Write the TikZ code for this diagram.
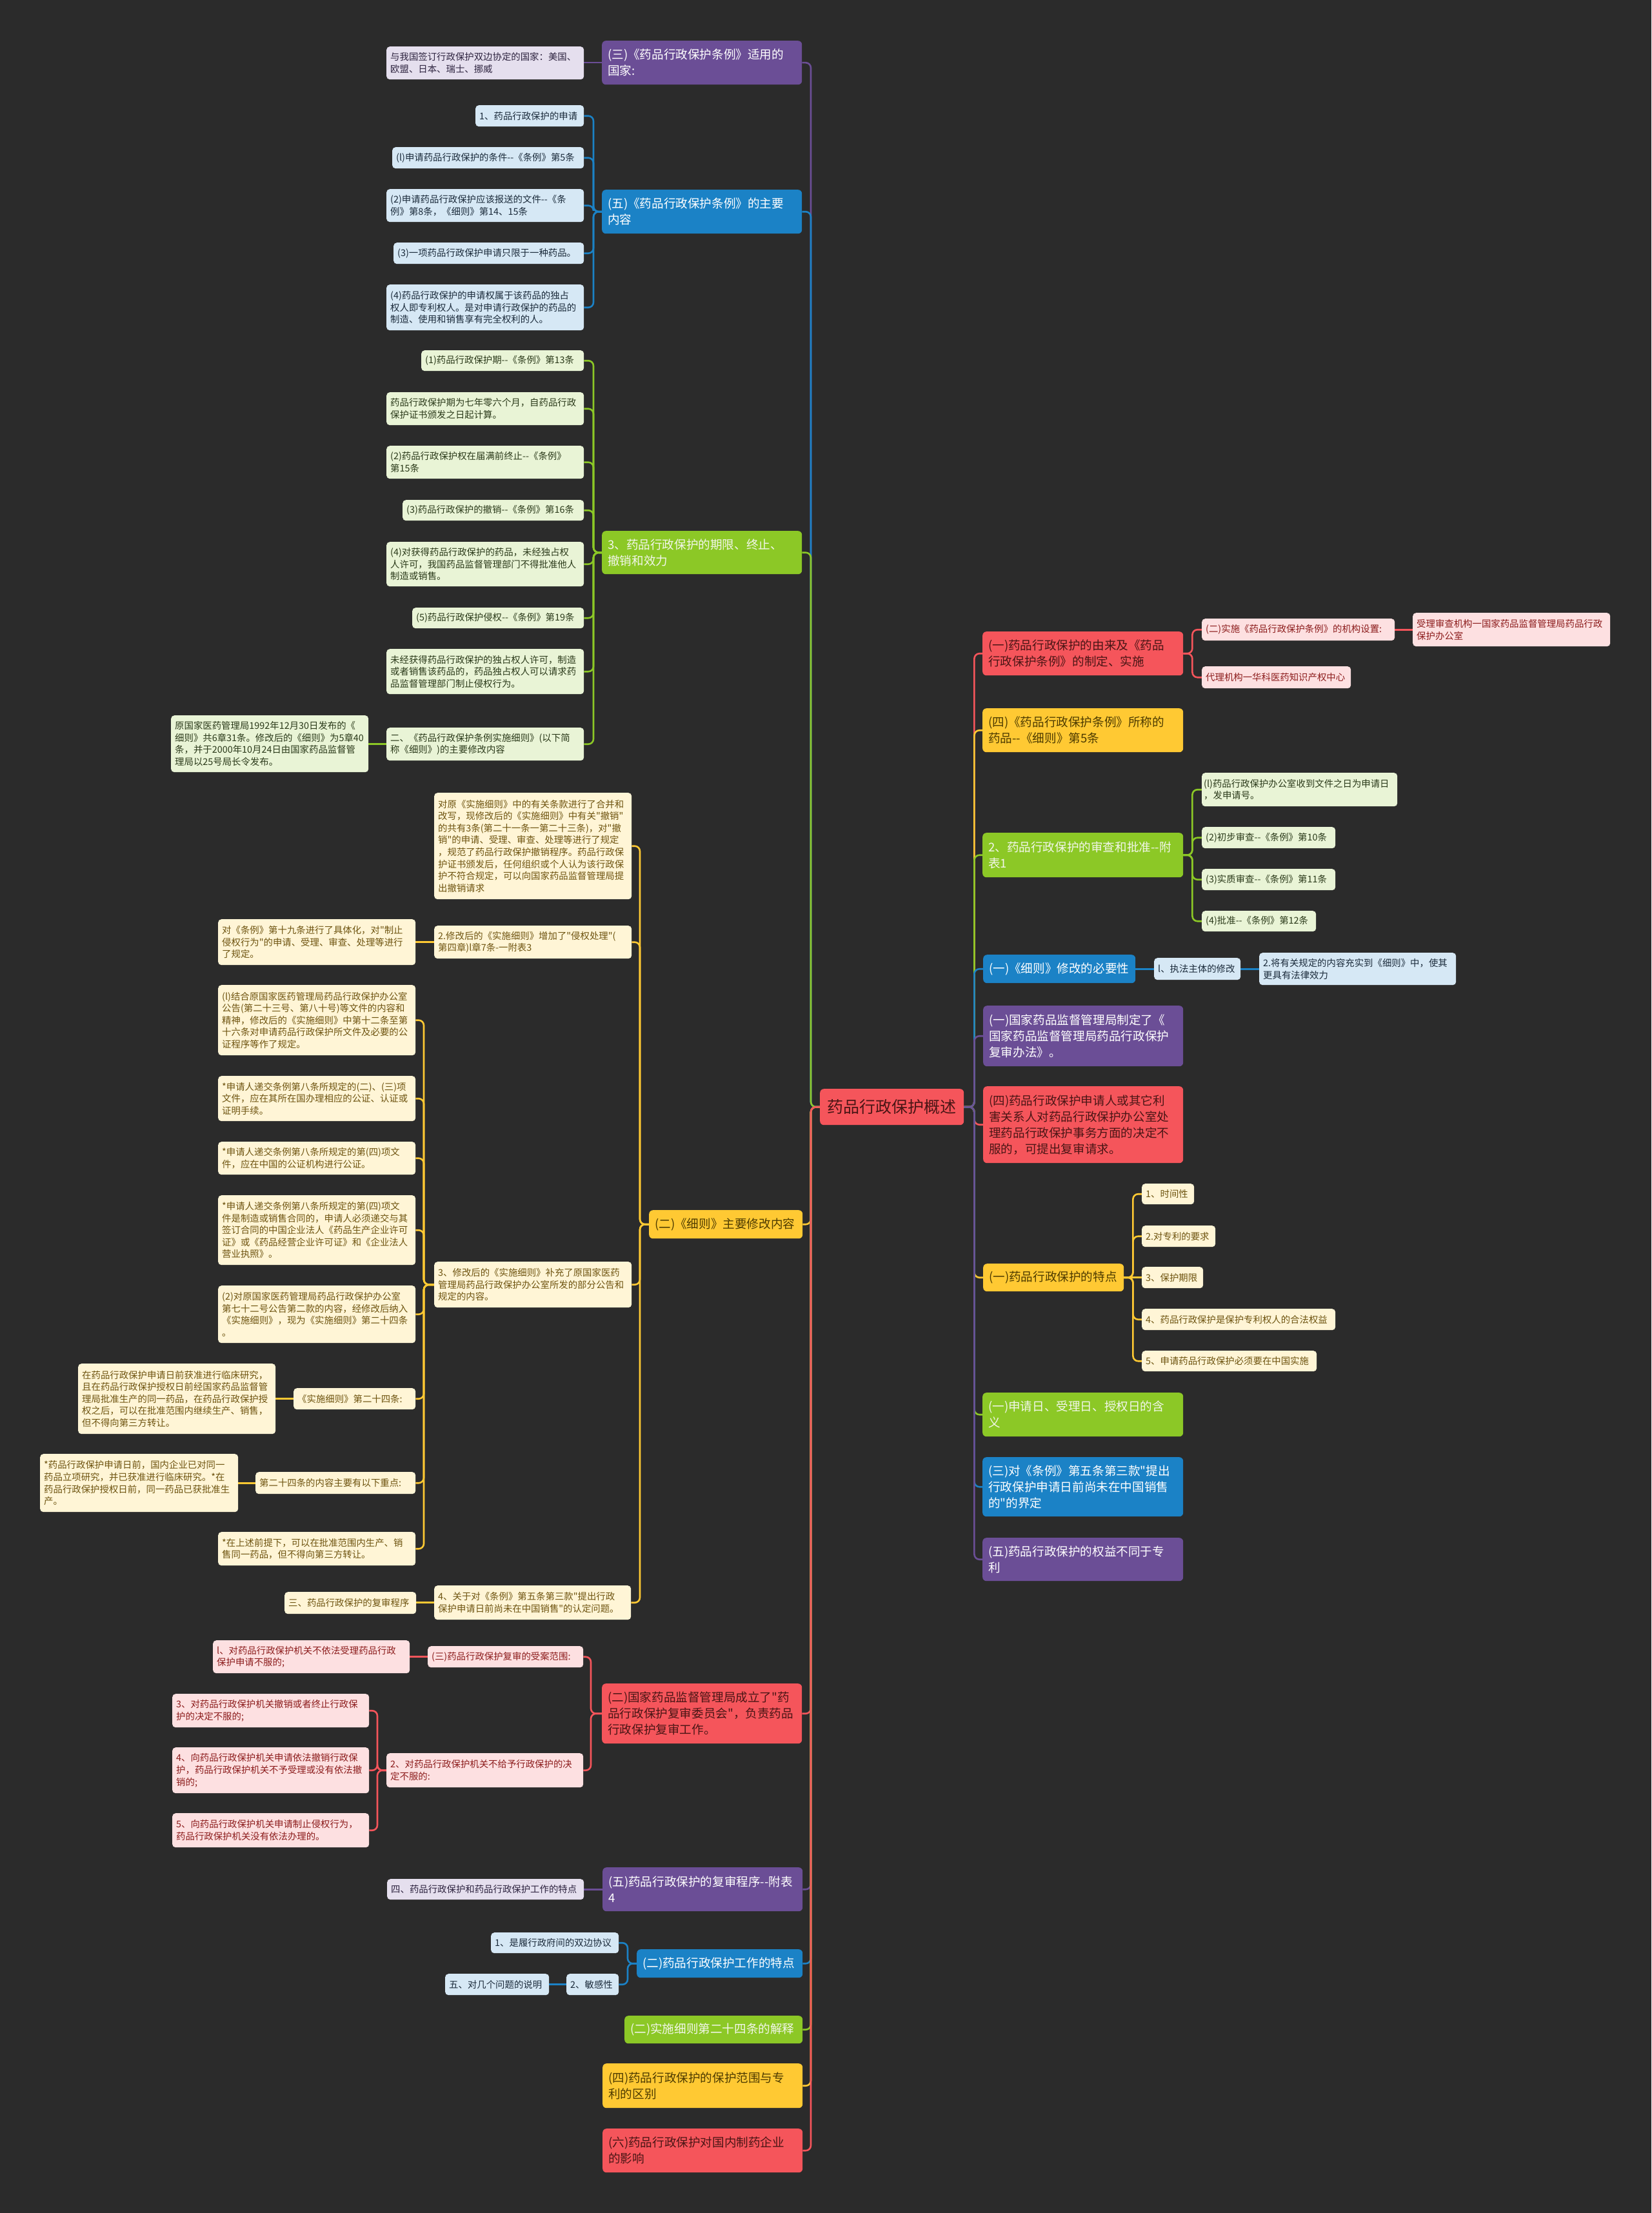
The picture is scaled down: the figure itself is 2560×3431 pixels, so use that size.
\documentclass[tikz,border=0pt]{standalone}
\usepackage{fontspec}
\newfontfamily\cjk{Noto Sans CJK SC}
\definecolor{bgc}{HTML}{2B2B2B}
\definecolor{cred}{HTML}{F5555B}
\definecolor{cyel}{HTML}{FFC933}
\definecolor{cgrn}{HTML}{8CC826}
\definecolor{cblu}{HTML}{1B82C6}
\definecolor{cpur}{HTML}{6B4E96}
\definecolor{tred}{HTML}{4A1515}
\definecolor{tyel}{HTML}{4D3B00}
\definecolor{tgrn}{HTML}{F2F6EA}
\definecolor{lred}{HTML}{FDE0E1}
\definecolor{lyel}{HTML}{FFF5D6}
\definecolor{lgrn}{HTML}{E9F4D6}
\definecolor{lblu}{HTML}{D6E8F5}
\definecolor{lpur}{HTML}{E5DFEE}
\definecolor{ltred}{HTML}{8C1C1C}
\definecolor{ltyel}{HTML}{6E5410}
\definecolor{ltgrn}{HTML}{2B3A1A}
\definecolor{ltblu}{HTML}{1B2B3B}
\definecolor{ltpur}{HTML}{2E2440}
\pgfdeclarelayer{bgl}
\pgfsetlayers{bgl,main}
\tikzset{
  lf/.style={rounded corners=5pt, align=left, font=\cjk\fontsize{14.4}{18.6}\selectfont},
  br/.style={rounded corners=6pt, align=left, font=\cjk\fontsize{18.6}{25}\selectfont},
  rB/.style={br, fill=cred, text=tred},
  yB/.style={br, fill=cyel, text=tyel},
  gB/.style={br, fill=cgrn, text=tgrn},
  bB/.style={br, fill=cblu, text=white},
  pB/.style={br, fill=cpur, text=white},
  rL/.style={lf, fill=lred, text=ltred},
  yL/.style={lf, fill=lyel, text=ltyel},
  gL/.style={lf, fill=lgrn, text=ltgrn},
  bL/.style={lf, fill=lblu, text=ltblu},
  pL/.style={lf, fill=lpur, text=ltpur},
  ln/.style={line width=2.6pt, rounded corners=8pt},
}
\newcommand\nd[8]{%
  \pgfmathsetlengthmacro\ndtw{(#6-2*#2)*1pt}%
  \node[#1, anchor=north west, inner xsep=#2pt, inner ysep=0pt, minimum width=#6pt, minimum height=#7pt, text width=\ndtw] (#3) at (#4,#5) {#8};}
\begin{document}
\begin{tikzpicture}[x=1pt,y=-1pt]
\begin{pgfonlayer}{bgl}
\fill[bgc] (0,0) rectangle (2560,3431);
\end{pgfonlayer}
\useasboundingbox (0,0) rectangle (2560,3431);

% center
\node[rB, font=\cjk\fontsize{25}{30}\selectfont, anchor=north west, minimum width=223pt, minimum height=56pt, inner sep=0pt, align=center] (C) at (1271,1688) {药品行政保护概述};

% ---------- left ----------
\nd{pB}{9}{LA}{933}{63}{310}{68}{(三)《药品行政保护条例》适用的\\国家:}
\nd{pL}{6}{LA1}{599}{72}{306}{51}{与我国签订行政保护双边协定的国家：美国、\\欧盟、日本、瑞士、挪威}

\nd{bB}{9}{LB}{933}{294}{310}{68}{(五)《药品行政保护条例》的主要\\内容}
\nd{bL}{6}{LB1}{737}{163}{168}{33}{1、药品行政保护的申请}
\nd{bL}{6}{LB2}{608}{228}{297}{33}{(l)申请药品行政保护的条件-{}-《条例》第5条}
\nd{bL}{6}{LB3}{599}{293}{306}{51}{(2)申请药品行政保护应该报送的文件-{}-《条\\例》第8条，《细则》第14、15条}
\nd{bL}{6}{LB4}{610}{376}{295}{33}{(3)一项药品行政保护申请只限于一种药品。}
\nd{bL}{6}{LB5}{599}{441}{306}{71}{(4)药品行政保护的申请权属于该药品的独占\\权人即专利权人。是对申请行政保护的药品的\\制造、使用和销售享有完全权利的人。}

\nd{gB}{9}{LC}{933}{823}{310}{67}{3、药品行政保护的期限、终止、\\撤销和效力}
\nd{gL}{6}{LC1}{653}{543}{252}{32}{(1)药品行政保护期-{}-《条例》第13条}
\nd{gL}{6}{LC2}{599}{608}{306}{51}{药品行政保护期为七年零六个月，自药品行政\\保护证书颁发之日起计算。}
\nd{gL}{6}{LC3}{599}{691}{306}{51}{(2)药品行政保护权在届满前终止-{}-《条例》\\第15条}
\nd{gL}{6}{LC4}{624}{775}{281}{32}{(3)药品行政保护的撤销-{}-《条例》第16条}
\nd{gL}{6}{LC5}{599}{840}{306}{69}{(4)对获得药品行政保护的药品，未经独占权\\人许可，我国药品监督管理部门不得批准他人\\制造或销售。}
\nd{gL}{6}{LC6}{639}{942}{266}{32}{(5)药品行政保护侵权-{}-《条例》第19条}
\nd{gL}{6}{LC7}{599}{1006}{306}{70}{未经获得药品行政保护的独占权人许可，制造\\或者销售该药品的，药品独占权人可以请求药\\品监督管理部门制止侵权行为。}
\nd{gL}{6}{LC8}{599}{1128}{306}{51}{二、《药品行政保护条例实施细则》(以下简\\称《细则》)的主要修改内容}
\nd{gL}{6}{LC81}{265}{1109}{306}{88}{原国家医药管理局1992年12月30日发布的《\\细则》共6章31条。修改后的《细则》为5章40\\条，并于2000年10月24日由国家药品监督管\\理局以25号局长令发布。}

\nd{yB}{9}{LD}{1006}{1876}{238}{44}{(二)《细则》主要修改内容}
\nd{yL}{6}{LD1}{673}{1229}{306}{165}{对原《实施细则》中的有关条款进行了合并和\\改写，现修改后的《实施细则》中有关"撤销"\\的共有3条(第二十一条一第二十三条)，对"撤\\销"的申请、受理、审查、处理等进行了规定\\，规范了药品行政保护撤销程序。药品行政保\\护证书颁发后，任何组织或个人认为该行政保\\护不符合规定，可以向国家药品监督管理局提\\出撤销请求}
\nd{yL}{6}{LD2}{673}{1435}{306}{51}{2.修改后的《实施细则》增加了"侵权处理"(\\第四章)l章7条-一附表3}
\nd{yL}{6}{LD21}{338}{1425}{306}{71}{对《条例》第十九条进行了具体化，对"制止\\侵权行为"的申请、受理、审查、处理等进行\\了规定。}
\nd{yL}{6}{LD3}{673}{1956}{306}{71}{3、修改后的《实施细则》补充了原国家医药\\管理局药品行政保护办公室所发的部分公告和\\规定的内容。}
\nd{yL}{6}{LD31}{338}{1527}{306}{109}{(l)结合原国家医药管理局药品行政保护办公室\\公告(第二十三号、第八十号)等文件的内容和\\精神，修改后的《实施细则》中第十二条至第\\十六条对申请药品行政保护所文件及必要的公\\证程序等作了规定。}
\nd{yL}{6}{LD32}{338}{1668}{306}{70}{*申请人递交条例第八条所规定的(二)、(三)项\\文件，应在其所在国办理相应的公证、认证或\\证明手续。}
\nd{yL}{6}{LD33}{338}{1770}{306}{51}{*申请人递交条例第八条所规定的第(四)项文\\件，应在中国的公证机构进行公证。}
\nd{yL}{6}{LD34}{338}{1853}{306}{108}{*申请人递交条例第八条所规定的第(四)项文\\件是制造或销售合同的，申请人必须递交与其\\签订合同的中国企业法人《药品生产企业许可\\证》或《药品经营企业许可证》和《企业法人\\营业执照》。}
\nd{yL}{6}{LD35}{338}{1993}{306}{89}{(2)对原国家医药管理局药品行政保护办公室\\第七十二号公告第二款的内容，经修改后纳入\\《实施细则》，现为《实施细则》第二十四条\\。}
\nd{yL}{6}{LD36}{455}{2152}{189}{33}{《实施细则》第二十四条:}
\nd{yL}{6}{LD361}{121}{2114}{306}{109}{在药品行政保护申请日前获准进行临床研究，\\且在药品行政保护授权日前经国家药品监督管\\理局批准生产的同一药品，在药品行政保护授\\权之后，可以在批准范围内继续生产、销售，\\但不得向第三方转让。}
\nd{yL}{6}{LD37}{396}{2282}{248}{34}{第二十四条的内容主要有以下重点:}
\nd{yL}{6}{LD371}{62}{2254}{307}{90}{*药品行政保护申请日前，国内企业已对同一\\药品立项研究，并已获准进行临床研究。*在\\药品行政保护授权日前，同一药品已获批准生\\产。}
\nd{yL}{6}{LD38}{338}{2375}{306}{52}{*在上述前提下，可以在批准范围内生产、销\\售同一药品，但不得向第三方转让。}
\nd{yL}{6}{LD4}{673}{2458}{305}{53}{4、关于对《条例》第五条第三款"提出行政\\保护申请日前尚未在中国销售"的认定问题。}
\nd{yL}{6}{LD41}{441}{2468}{204}{34}{三、药品行政保护的复审程序}

\nd{rB}{9}{LE}{933}{2610}{310}{93}{(二)国家药品监督管理局成立了"药\\品行政保护复审委员会"，负责药品\\行政保护复审工作。}
\nd{rL}{6}{LE1}{663}{2552}{241}{33}{(三)药品行政保护复审的受案范围:}
\nd{rL}{6}{LE11}{330}{2543}{305}{51}{l、对药品行政保护机关不依法受理药品行政\\保护申请不服的;}
\nd{rL}{6}{LE2}{599}{2718}{305}{53}{2、对药品行政保护机关不给予行政保护的决\\定不服的:}
\nd{rL}{6}{LE21}{267}{2626}{305}{52}{3、对药品行政保护机关撤销或者终止行政保\\护的决定不服的;}
\nd{rL}{6}{LE22}{267}{2709}{305}{71}{4、向药品行政保护机关申请依法撤销行政保\\护，药品行政保护机关不予受理或没有依法撤\\销的;}
\nd{rL}{6}{LE23}{267}{2811}{305}{53}{5、向药品行政保护机关申请制止侵权行为，\\药品行政保护机关没有依法办理的。}

\nd{pB}{9}{LF}{934}{2895}{310}{68}{(五)药品行政保护的复审程序-{}-附表\\4}
\nd{pL}{6}{LF1}{600}{2913}{305}{32}{四、药品行政保护和药品行政保护工作的特点}
\nd{bB}{9}{LG}{987}{3022}{257}{44}{(二)药品行政保护工作的特点}
\nd{bL}{6}{LG1}{761}{2996}{198}{32}{1、是履行政府间的双边协议}
\nd{bL}{6}{LG2}{878}{3060}{81}{33}{2、敏感性}
\nd{bL}{6}{LG21}{690}{3060}{161}{33}{五、对几个问题的说明}
\nd{gB}{9}{LH}{968}{3125}{276}{43}{(二)实施细则第二十四条的解释}
\nd{yB}{9}{LI}{934}{3199}{310}{69}{(四)药品行政保护的保护范围与专\\利的区别}
\nd{rB}{9}{LJ}{934}{3300}{310}{68}{(六)药品行政保护对国内制药企业\\的影响}

% ---------- right ----------
\nd{rB}{9}{RA}{1523}{979}{311}{68}{(一)药品行政保护的由来及《药品\\行政保护条例》的制定、实施}
\nd{rL}{6}{RA1}{1863}{959}{299}{34}{(二)实施《药品行政保护条例》的机构设置:}
\nd{rL}{6}{RA11}{2190}{950}{306}{52}{受理审查机构一国家药品监督管理局药品行政\\保护办公室}
\nd{rL}{6}{RA2}{1863}{1033}{231}{34}{代理机构一华科医药知识产权中心}
\nd{yB}{9}{RB}{1523}{1098}{311}{68}{(四)《药品行政保护条例》所称的\\药品-{}-《细则》第5条}
\nd{gB}{9}{RC}{1523}{1291}{311}{69}{2、药品行政保护的审查和批准-{}-附\\表1}
\nd{gL}{3}{RC1}{1863}{1198}{303}{52}{(l)药品行政保护办公室收到文件之日为申请日\\，发申请号。}
\nd{gL}{6}{RC2}{1863}{1282}{207}{33}{(2)初步审查-{}-《条例》第10条}
\nd{gL}{6}{RC3}{1863}{1347}{207}{33}{(3)实质审查-{}-《条例》第11条}
\nd{gL}{6}{RC4}{1863}{1412}{177}{32}{(4)批准-{}-《条例》第12条}
\nd{bB}{9}{RD}{1524}{1480}{236}{44}{(一)《细则》修改的必要性}
\nd{bL}{6}{RD1}{1789}{1485}{134}{34}{l、执法主体的修改}
\nd{bL}{6}{RD11}{1952}{1477}{305}{50}{2.将有关规定的内容充实到《细则》中，使其\\更具有法律效力}
\nd{pB}{9}{RE}{1524}{1559}{310}{94}{(一)国家药品监督管理局制定了《\\国家药品监督管理局药品行政保护\\复审办法》。}
\nd{rB}{9}{RF}{1524}{1684}{310}{119}{(四)药品行政保护申请人或其它利\\害关系人对药品行政保护办公室处\\理药品行政保护事务方面的决定不\\服的，可提出复审请求。}
\nd{yB}{9}{RG}{1524}{1959}{218}{43}{(一)药品行政保护的特点}
\nd{yL}{6}{RG1}{1770}{1835}{81}{32}{1、时间性}
\nd{yL}{6}{RG2}{1770}{1900}{114}{33}{2.对专利的要求}
\nd{yL}{6}{RG3}{1770}{1964}{95}{33}{3、保护期限}
\nd{yL}{6}{RG4}{1770}{2029}{300}{33}{4、药品行政保护是保护专利权人的合法权益}
\nd{yL}{6}{RG5}{1770}{2094}{271}{32}{5、申请药品行政保护必须要在中国实施}
\nd{gB}{9}{RH}{1523}{2159}{311}{68}{(一)申请日、受理日、授权日的含\\义}
\nd{bB}{9}{RI}{1523}{2259}{311}{92}{(三)对《条例》第五条第三款"提出\\行政保护申请日前尚未在中国销售\\的"的界定}
\nd{pB}{9}{RJ}{1523}{2384}{311}{67}{(五)药品行政保护的权益不同于专\\利}

% ---------- connectors ----------
\begin{pgfonlayer}{bgl}
% left trunk
\draw[ln,draw=cpur] (C.west) -- ++(-14,0) |- (LA.east);
\draw[ln,draw=cblu] (C.west) -- ++(-14,0) |- (LB.east);
\draw[ln,draw=cgrn] (C.west) -- ++(-14,0) |- (LC.east);
\draw[ln,draw=cyel] (C.west) -- ++(-14,0) |- (LD.east);
\draw[ln,draw=cred] (C.west) -- ++(-14,0) |- (LE.east);
\draw[ln,draw=cpur] (C.west) -- ++(-14,0) |- (LF.east);
\draw[ln,draw=cblu] (C.west) -- ++(-14,0) |- (LG.east);
\draw[ln,draw=cgrn] (C.west) -- ++(-14,0) |- (LH.east);
\draw[ln,draw=cyel] (C.west) -- ++(-14,0) |- (LI.east);
\draw[ln,draw=cred] (C.west) -- ++(-14,0) |- (LJ.east);
% right trunk
\draw[ln,draw=cred] (C.east) -- ++(16,0) |- (RA.west);
\draw[ln,draw=cyel] (C.east) -- ++(16,0) |- (RB.west);
\draw[ln,draw=cgrn] (C.east) -- ++(16,0) |- (RC.west);
\draw[ln,draw=cblu] (C.east) -- ++(16,0) |- (RD.west);
\draw[ln,draw=cpur] (C.east) -- ++(16,0) |- (RE.west);
\draw[ln,draw=cred] (C.east) -- ++(16,0) |- (RF.west);
\draw[ln,draw=cyel] (C.east) -- ++(16,0) |- (RG.west);
\draw[ln,draw=cgrn] (C.east) -- ++(16,0) |- (RH.west);
\draw[ln,draw=cblu] (C.east) -- ++(16,0) |- (RI.west);
\draw[ln,draw=cpur] (C.east) -- ++(16,0) |- (RJ.west);
% left sub-connectors
\draw[ln,draw=cpur] (LA.west) -- (LA1.east |- LA.west);
\foreach \k in {LB1,LB2,LB3,LB4,LB5} \draw[ln,draw=cblu] (LB.west) -- ++(-13,0) |- (\k.east);
\foreach \k in {LC1,LC2,LC3,LC4,LC5,LC6,LC7,LC8} \draw[ln,draw=cgrn] (LC.west) -- ++(-13,0) |- (\k.east);
\draw[ln,draw=cgrn] (LC8.west) -- (LC81.east |- LC8.west);
\foreach \k in {LD1,LD2,LD3,LD4} \draw[ln,draw=cyel] (LD.west) -- ++(-14,0) |- (\k.east);
\draw[ln,draw=cyel] (LD2.west) -- (LD21.east |- LD2.west);
\foreach \k in {LD31,LD32,LD33,LD34,LD35,LD36,LD37,LD38} \draw[ln,draw=cyel] (LD3.west) -- ++(-16,0) |- (\k.east);
\draw[ln,draw=cyel] (LD36.west) -- (LD361.east |- LD36.west);
\draw[ln,draw=cyel] (LD37.west) -- (LD371.east |- LD37.west);
\draw[ln,draw=cyel] (LD4.west) -- (LD41.east |- LD4.west);
\foreach \k in {LE1,LE2} \draw[ln,draw=cred] (LE.west) -- ++(-17,0) |- (\k.east);
\draw[ln,draw=cred] (LE1.west) -- (LE11.east |- LE1.west);
\foreach \k in {LE21,LE22,LE23} \draw[ln,draw=cred] (LE2.west) -- ++(-14,0) |- (\k.east);
\draw[ln,draw=cpur] (LF.west) -- (LF1.east |- LF.west);
\foreach \k in {LG1,LG2} \draw[ln,draw=cblu] (LG.west) -- ++(-14,0) |- (\k.east);
\draw[ln,draw=cblu] (LG2.west) -- (LG21.east |- LG2.west);
% right sub-connectors
\foreach \k in {RA1,RA2} \draw[ln,draw=cred] (RA.east) -- ++(14,0) |- (\k.west);
\draw[ln,draw=cred] (RA1.east) -- (RA11.west |- RA1.east);
\foreach \k in {RC1,RC2,RC3,RC4} \draw[ln,draw=cgrn] (RC.east) -- ++(14,0) |- (\k.west);
\draw[ln,draw=cblu] (RD.east) -- (RD1.west |- RD.east);
\draw[ln,draw=cblu] (RD1.east) -- (RD11.west |- RD1.east);
\foreach \k in {RG1,RG2,RG4,RG5} \draw[ln,draw=cyel] (RG.east) -- ++(14,0) |- (\k.west);
\draw[ln,draw=cyel] (RG.east) -- (RG3.west |- RG.east);
\end{pgfonlayer}
\end{tikzpicture}
\end{document}
